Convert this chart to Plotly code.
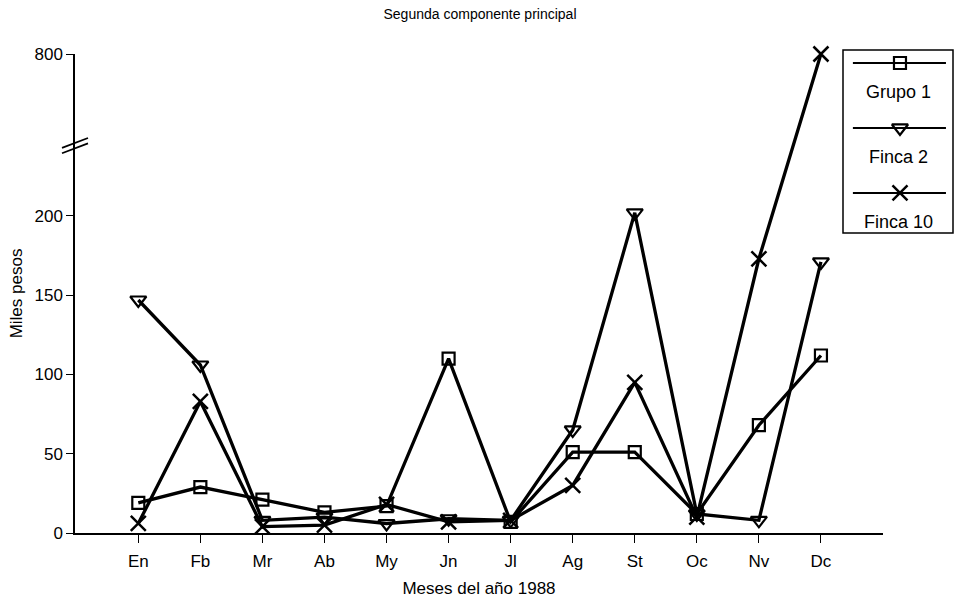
import plotly.graph_objects as go

# Monthly values (thousands of pesos), second principal component
meses = ["En", "Fb", "Mr", "Ab", "My", "Jn", "Jl", "Ag", "St", "Oc", "Nv", "Dc"]
grupo_1 = [19, 29, 21, 13, 17, 110, 7, 51, 51, 12, 68, 112]
finca_2 = [147, 106, 8, 10, 6, 9, 8, 65, 202, 12, 8, 171]
finca_10 = [6, 83, 4, 5, 18, 7, 8, 30, 95, 10, 173, 800]

y_ticks = [0, 50, 100, 150, 200, 800]

# Broken axis: linear up to BREAK, compressed segment from BREAK up to TOP_VAL
BREAK = 245.0
TOP_VAL = 800.0
TOP_POS = 302.2


def to_axis(v):
    if v <= BREAK:
        return v
    return BREAK + (v - BREAK) * (TOP_POS - BREAK) / (TOP_VAL - BREAK)


FONT = "Liberation Sans, Arial, Helvetica, sans-serif"
W, H = 957, 604
ML, MR, MT, MB = 75, 0, 40, 71
PW, PH = W - ML - MR, H - MT - MB
plot_w, plot_h = 808, 479
x_dom = [0, plot_w / PW]
y_dom = [0, plot_h / PH]

series = [
    ("Grupo 1", grupo_1, dict(symbol="square-open", size=12, line=dict(width=2.2, color="black"))),
    ("Finca 2", finca_2, dict(symbol="triangle-down-open", size=14, line=dict(width=2.2, color="black"))),
    ("Finca 10", finca_10, dict(symbol="x-thin-open", size=15, line=dict(width=2.5, color="black"))),
]

fig = go.Figure()
xs = list(range(len(meses)))
for name, vals, mk in series:
    fig.add_trace(go.Scatter(
        x=xs, y=[to_axis(v) for v in vals], mode="lines+markers", name=name,
        line=dict(color="black", width=3.3), marker=dict(color="black", **mk),
        cliponaxis=False, showlegend=False, xaxis="x", yaxis="y",
    ))

# Hand-built legend box: line with marker, label underneath
leg_line_y = [0.929, 0.574, 0.219]
leg_text_y = [0.770, 0.415, 0.060]
for (name, vals, mk), ly, ty in zip(series, leg_line_y, leg_text_y):
    fig.add_trace(go.Scatter(
        x=[0.09, 0.936], y=[ly, ly], mode="lines", line=dict(color="black", width=2),
        showlegend=False, xaxis="x2", yaxis="y2", hoverinfo="skip",
    ))
    fig.add_trace(go.Scatter(
        x=[0.518], y=[ly], mode="markers", marker=dict(color="black", **mk),
        showlegend=False, xaxis="x2", yaxis="y2", cliponaxis=False, hoverinfo="skip",
    ))
    fig.add_annotation(
        x=0.5, y=ty, xref="x2", yref="y2", text=name, showarrow=False,
        font=dict(family=FONT, size=18, color="black"),
    )

fig.add_shape(type="rect", xref="x2 domain", yref="y2 domain", x0=0, x1=1, y0=0, y1=1,
              line=dict(color="black", width=1.5), fillcolor="rgba(0,0,0,0)")

# Axis break marks on the y axis
dx = 13 / plot_w
for off in (0.0, -3.4):
    fig.add_shape(type="line", xref="x domain", yref="y",
                  x0=-dx, x1=dx, y0=243 + off, y1=249.2 + off,
                  line=dict(color="black", width=1.8))

fig.update_layout(
    width=W, height=H,
    margin=dict(l=ML, r=MR, t=MT, b=MB),
    paper_bgcolor="white", plot_bgcolor="white",
    font=dict(family=FONT, size=17, color="black"),
    title=dict(text="Segunda componente principal", x=480 / W, xref="container",
               xanchor="center", y=1 - 14 / H, yref="container", yanchor="middle",
               font=dict(family=FONT, size=14, color="black")),
    xaxis=dict(
        domain=x_dom, range=[-1.02, 12.0], tickvals=xs, ticktext=meses,
        showline=True, linecolor="black", linewidth=1.5, ticks="outside",
        ticklen=8, tickwidth=1.3, tickcolor="black", showgrid=False, zeroline=False,
        title=dict(text="Meses del año 1988", standoff=12, font=dict(size=17)),
        tickfont=dict(size=17), ticklabelstandoff=4,
    ),
    yaxis=dict(
        domain=y_dom, range=[0, TOP_POS], tickvals=[to_axis(v) for v in y_ticks],
        ticktext=[str(v) for v in y_ticks],
        showline=True, linecolor="black", linewidth=1.5, ticks="outside",
        ticklen=7, tickwidth=1.3, tickcolor="black", showgrid=False, zeroline=False,
        title=dict(text="Miles pesos", standoff=8, font=dict(size=17)),
        tickfont=dict(size=17),
    ),
    xaxis2=dict(domain=[(843 - ML) / PW, (953 - ML) / PW], range=[0, 1], visible=False,
                anchor="y2", fixedrange=True),
    yaxis2=dict(domain=[(533 - 233) / PH, (533 - 50) / PH], range=[0, 1], visible=False,
                anchor="x2", fixedrange=True),
)

fig.write_html("out.html")
